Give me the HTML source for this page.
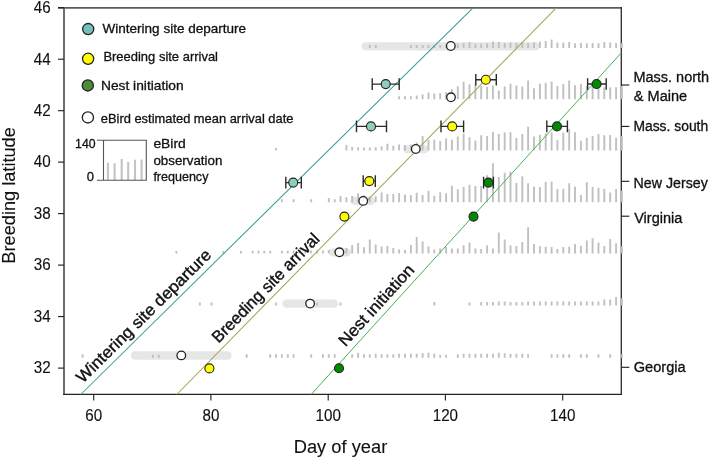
<!DOCTYPE html>
<html><head><meta charset="utf-8"><style>
html,body{margin:0;padding:0;background:#fff;}
body{width:710px;height:459px;overflow:hidden;position:relative;font-family:"Liberation Sans", sans-serif;}
svg text{font-family:"Liberation Sans", sans-serif;stroke:#111;stroke-width:0.12px;}
svg text.g{stroke-width:0.3px;}
svg text.r{stroke-width:0.4px;}
</style></head><body>
<svg style="position:absolute;left:0;top:0;will-change:transform" width="710" height="459" viewBox="0 0 710 459"><rect width="710" height="459" fill="#fff"/><path d="M58 7.9H621.4" stroke="#5c5c5c" stroke-width="1.8"/><path d="M64 7.9V394.4" stroke="#666" stroke-width="1.9"/><path d="M63.1 394.4H622" stroke="#222" stroke-width="1.3"/><path d="M621.3 7.1V395" stroke="#2a2a2a" stroke-width="1.3"/><line x1="365.6" y1="46.3" x2="535.4" y2="46.3" stroke="#e6e6e6" stroke-width="8.3" stroke-linecap="round"/><line x1="407.1" y1="149.1" x2="424.4" y2="149.1" stroke="#e6e6e6" stroke-width="8.3" stroke-linecap="round"/><line x1="354.6" y1="200.9" x2="370.9" y2="200.9" stroke="#e6e6e6" stroke-width="8.3" stroke-linecap="round"/><line x1="333.1" y1="252.3" x2="346.9" y2="252.3" stroke="#e6e6e6" stroke-width="8.3" stroke-linecap="round"/><line x1="286.6" y1="303.6" x2="333.9" y2="303.6" stroke="#e6e6e6" stroke-width="8.3" stroke-linecap="round"/><line x1="135.1" y1="355.5" x2="227.4" y2="355.5" stroke="#e6e6e6" stroke-width="8.3" stroke-linecap="round"/><path d="M369.8 47.9V44.9M375.7 47.9V44.9M410.9 47.9V44.9M416.7 47.9V44.9M422.6 47.9V44.9M428.5 47.9V44.9M434.3 47.9V44.9M440.2 47.9V44.9M446.1 47.9V44.9M451.9 47.9V44.9M457.8 47.9V43.8M463.6 47.9V43.2M469.5 47.9V42.1M475.4 47.9V43.8M481.2 47.9V43.8M487.1 47.9V43.2M492.9 47.9V41.5M498.8 47.9V42.1M504.7 47.9V42.9M510.5 47.9V42.6M516.4 47.9V42.9M522.3 47.9V42.4M528.1 47.9V42.9M534.0 47.9V42.4M539.9 47.9V41.5M545.7 47.9V41.1M551.6 47.9V39.6M557.4 47.9V42.4M563.3 47.9V42.4M569.2 47.9V42.1M575.0 47.9V43.3M580.9 47.9V42.9M586.8 47.9V43.3M592.6 47.9V42.9M598.5 47.9V43.3M604.3 47.9V42.1M610.2 47.9V42.4M616.1 47.9V42.9M621.9 47.9V43.3M399.1 99.3V96.3M405.0 99.3V96.3M410.9 99.3V96.3M416.7 99.3V95.5M422.6 99.3V94.5M428.5 99.3V92.6M434.3 99.3V93.6M440.2 99.3V93.0M446.1 99.3V92.3M451.9 99.3V89.3M457.8 99.3V86.3M463.6 99.3V81.8M469.5 99.3V84.3M475.4 99.3V84.3M481.2 99.3V86.3M487.1 99.3V86.9M492.9 99.3V85.6M498.8 99.3V90.4M504.7 99.3V86.6M510.5 99.3V83.7M516.4 99.3V85.6M522.3 99.3V86.6M528.1 99.3V80.6M534.0 99.3V88.2M539.9 99.3V83.8M545.7 99.3V82.8M551.6 99.3V81.5M557.4 99.3V85.9M563.3 99.3V84.1M569.2 99.3V80.6M575.0 99.3V85.3M580.9 99.3V84.1M586.8 99.3V85.9M592.6 99.3V85.3M598.5 99.3V85.3M604.3 99.3V87.3M610.2 99.3V87.3M616.1 99.3V87.3M621.9 99.3V85.9M276.0 150.5V147.9M346.4 150.5V145.1M352.2 150.5V147.0M358.1 150.5V147.3M364.0 150.5V147.6M369.8 150.5V147.6M375.7 150.5V147.3M381.6 150.5V146.3M387.4 150.5V143.8M393.3 150.5V145.7M399.1 150.5V144.5M405.0 150.5V145.1M410.9 150.5V144.5M416.7 150.5V142.5M422.6 150.5V135.9M428.5 150.5V139.7M434.3 150.5V139.7M440.2 150.5V141.0M446.1 150.5V138.5M451.9 150.5V139.7M457.8 150.5V136.5M463.6 150.5V133.4M469.5 150.5V137.2M475.4 150.5V140.4M481.2 150.5V135.3M487.1 150.5V135.9M492.9 150.5V131.9M498.8 150.5V134.0M504.7 150.5V132.6M510.5 150.5V132.2M516.4 150.5V138.1M522.3 150.5V134.0M528.1 150.5V126.7M534.0 150.5V136.6M539.9 150.5V134.8M545.7 150.5V133.5M551.6 150.5V132.5M557.4 150.5V139.9M563.3 150.5V132.6M569.2 150.5V128.9M575.0 150.5V132.2M580.9 150.5V140.8M586.8 150.5V137.7M592.6 150.5V135.9M598.5 150.5V134.0M604.3 150.5V135.3M610.2 150.5V135.0M616.1 150.5V137.7M621.9 150.5V135.9M281.9 202.2V199.3M293.6 202.2V199.3M311.2 202.2V199.3M328.8 202.2V198.0M334.7 202.2V199.3M340.5 202.2V195.9M346.4 202.2V197.2M352.2 202.2V195.9M358.1 202.2V193.3M364.0 202.2V195.2M369.8 202.2V196.8M375.7 202.2V196.2M381.6 202.2V192.4M387.4 202.2V194.0M393.3 202.2V194.0M399.1 202.2V192.9M405.0 202.2V194.6M410.9 202.2V195.0M416.7 202.2V192.7M422.6 202.2V195.0M428.5 202.2V190.8M434.3 202.2V195.7M440.2 202.2V192.3M446.1 202.2V193.2M451.9 202.2V185.7M457.8 202.2V189.2M463.6 202.2V187.0M469.5 202.2V184.7M475.4 202.2V186.0M481.2 202.2V186.0M487.1 202.2V175.2M492.9 202.2V163.2M498.8 202.2V176.9M504.7 202.2V172.7M510.5 202.2V171.7M516.4 202.2V183.0M522.3 202.2V176.3M528.1 202.2V183.2M534.0 202.2V186.5M539.9 202.2V187.0M545.7 202.2V181.9M551.6 202.2V181.4M557.4 202.2V189.0M563.3 202.2V188.7M569.2 202.2V183.2M575.0 202.2V186.5M580.9 202.2V194.9M586.8 202.2V182.2M592.6 202.2V187.0M598.5 202.2V187.8M604.3 202.2V188.7M610.2 202.2V192.4M616.1 202.2V189.0M621.9 202.2V190.7M176.4 253.6V251.1M223.3 253.6V251.1M240.9 253.6V251.1M252.6 253.6V250.8M258.5 253.6V250.8M264.3 253.6V250.8M270.2 253.6V250.8M281.9 253.6V250.8M287.8 253.6V250.8M293.6 253.6V250.8M299.5 253.6V250.6M305.4 253.6V250.8M311.2 253.6V250.6M317.1 253.6V250.6M322.9 253.6V250.4M328.8 253.6V250.1M334.7 253.6V250.1M340.5 253.6V249.6M346.4 253.6V248.0M352.2 253.6V245.1M358.1 253.6V243.0M364.0 253.6V247.3M369.8 253.6V239.5M375.7 253.6V244.4M381.6 253.6V246.6M387.4 253.6V246.1M393.3 253.6V248.0M399.1 253.6V249.4M405.0 253.6V250.1M410.9 253.6V245.1M416.7 253.6V237.1M422.6 253.6V241.6M428.5 253.6V246.6M434.3 253.6V249.5M440.2 253.6V248.4M446.1 253.6V247.0M451.9 253.6V248.4M457.8 253.6V248.4M463.6 253.6V245.3M469.5 253.6V242.5M475.4 253.6V248.4M481.2 253.6V249.1M487.1 253.6V245.3M492.9 253.6V248.4M498.8 253.6V232.5M504.7 253.6V239.5M510.5 253.6V245.6M516.4 253.6V246.0M522.3 253.6V242.1M528.1 253.6V227.3M534.0 253.6V244.0M539.9 253.6V246.3M545.7 253.6V246.8M551.6 253.6V247.1M557.4 253.6V249.0M563.3 253.6V247.1M569.2 253.6V246.8M575.0 253.6V244.0M580.9 253.6V245.8M586.8 253.6V240.4M592.6 253.6V238.3M598.5 253.6V242.4M604.3 253.6V246.0M610.2 253.6V239.1M616.1 253.6V243.2M621.9 253.6V246.3M199.8 305.6V302.6M211.5 305.6V302.6M276.0 305.6V302.6M317.1 305.6V302.6M340.5 305.6V302.6M434.3 305.6V302.1M469.5 305.6V302.6M481.2 305.6V302.1M487.1 305.6V302.1M492.9 305.6V302.1M498.8 305.6V301.6M504.7 305.6V301.6M510.5 305.6V302.1M516.4 305.6V302.1M522.3 305.6V302.1M528.1 305.6V301.6M534.0 305.6V301.6M539.9 305.6V301.6M545.7 305.6V301.6M551.6 305.6V301.6M557.4 305.6V301.6M563.3 305.6V301.6M569.2 305.6V301.6M575.0 305.6V301.6M580.9 305.6V301.6M586.8 305.6V301.6M592.6 305.6V301.6M598.5 305.6V301.6M604.3 305.6V299.6M610.2 305.6V299.6M616.1 305.6V297.1M621.9 305.6V298.2M82.6 357.7V354.3M152.9 357.7V354.7M158.8 357.7V354.7M246.7 357.7V354.2M270.2 357.7V354.2M276.0 357.7V354.2M281.9 357.7V354.2M287.8 357.7V354.2M293.6 357.7V354.2M311.2 357.7V354.2M322.9 357.7V354.2M328.8 357.7V354.2M334.7 357.7V354.2M352.2 357.7V354.2M358.1 357.7V352.7M364.0 357.7V354.2M369.8 357.7V354.2M375.7 357.7V353.7M381.6 357.7V354.2M387.4 357.7V354.2M393.3 357.7V354.2M399.1 357.7V353.7M405.0 357.7V353.7M410.9 357.7V353.7M416.7 357.7V353.7M422.6 357.7V353.2M428.5 357.7V352.7M434.3 357.7V353.7M440.2 357.7V354.7M446.1 357.7V354.7M457.8 357.7V354.2M463.6 357.7V353.7M469.5 357.7V353.7M475.4 357.7V353.7M481.2 357.7V353.7M487.1 357.7V353.7M492.9 357.7V353.7M498.8 357.7V352.7M504.7 357.7V353.2M510.5 357.7V353.7M516.4 357.7V353.7M522.3 357.7V353.7M528.1 357.7V354.2M551.6 357.7V354.2M557.4 357.7V354.2M563.3 357.7V354.2M569.2 357.7V354.2M580.9 357.7V354.2M586.8 357.7V354.2M598.5 357.7V354.2M610.2 357.7V354.2M621.9 357.7V354.2" stroke="#c0c0c0" stroke-width="1.9" fill="none"/><line x1="80.7" y1="394.5" x2="473" y2="7.8" stroke="#3a9e96" stroke-width="1.05"/><line x1="176.8" y1="394.5" x2="556.3" y2="7.8" stroke="#a2a752" stroke-width="1.05"/><line x1="311.1" y1="394.5" x2="621.5" y2="52.6" stroke="#4cae52" stroke-width="1.0"/><circle cx="450.8" cy="46.0" r="4.3" fill="#fff" stroke="#222" stroke-width="1.3"/><circle cx="451.0" cy="97.3" r="4.3" fill="#fff" stroke="#222" stroke-width="1.3"/><circle cx="415.8" cy="149.0" r="4.3" fill="#fff" stroke="#222" stroke-width="1.3"/><circle cx="363.2" cy="200.9" r="4.3" fill="#fff" stroke="#222" stroke-width="1.3"/><circle cx="339.4" cy="252.3" r="4.3" fill="#fff" stroke="#222" stroke-width="1.3"/><circle cx="310.1" cy="303.6" r="4.3" fill="#fff" stroke="#222" stroke-width="1.3"/><circle cx="181.3" cy="355.4" r="4.3" fill="#fff" stroke="#222" stroke-width="1.3"/><path d="M372.2 84.1H399.2M372.2 78.3V89.89999999999999M399.2 78.3V89.89999999999999" stroke="#2a2a2a" stroke-width="1.4" fill="none"/><circle cx="385.7" cy="84.1" r="4.5" fill="#8ccfc0" stroke="#222" stroke-width="1.1"/><path d="M356.5 126.4H386.5M356.5 120.60000000000001V132.20000000000002M386.5 120.60000000000001V132.20000000000002" stroke="#2a2a2a" stroke-width="1.4" fill="none"/><circle cx="371.0" cy="126.4" r="4.5" fill="#8ccfc0" stroke="#222" stroke-width="1.1"/><path d="M285.8 182.6H301.3M285.8 176.79999999999998V188.4M301.3 176.79999999999998V188.4" stroke="#2a2a2a" stroke-width="1.4" fill="none"/><circle cx="293.2" cy="182.6" r="4.5" fill="#8ccfc0" stroke="#222" stroke-width="1.1"/><path d="M475.8 79.7H496.3M475.8 73.9V85.5M496.3 73.9V85.5" stroke="#2a2a2a" stroke-width="1.4" fill="none"/><circle cx="485.8" cy="79.7" r="4.5" fill="#ffff00" stroke="#222" stroke-width="1.1"/><path d="M441.0 126.4H463.6M441.0 120.60000000000001V132.20000000000002M463.6 120.60000000000001V132.20000000000002" stroke="#2a2a2a" stroke-width="1.4" fill="none"/><circle cx="452.2" cy="126.4" r="4.5" fill="#ffff00" stroke="#222" stroke-width="1.1"/><path d="M363.2 181.1H375.3M363.2 175.29999999999998V186.9M375.3 175.29999999999998V186.9" stroke="#2a2a2a" stroke-width="1.4" fill="none"/><circle cx="369.3" cy="181.1" r="4.5" fill="#ffff00" stroke="#222" stroke-width="1.1"/><circle cx="344.4" cy="216.6" r="4.5" fill="#ffff00" stroke="#222" stroke-width="1.1"/><circle cx="209.4" cy="368.4" r="4.5" fill="#ffff00" stroke="#222" stroke-width="1.1"/><path d="M587.6 84.0H606.2M587.6 78.2V89.8M606.2 78.2V89.8" stroke="#2a2a2a" stroke-width="1.4" fill="none"/><circle cx="596.6" cy="84.0" r="4.5" fill="#008a00" stroke="#222" stroke-width="1.1"/><path d="M546.8 126.4H567.4M546.8 120.60000000000001V132.20000000000002M567.4 120.60000000000001V132.20000000000002" stroke="#2a2a2a" stroke-width="1.4" fill="none"/><circle cx="557.0" cy="126.4" r="4.5" fill="#008a00" stroke="#222" stroke-width="1.1"/><path d="M483.6 182.6H493.4M483.6 176.79999999999998V188.4M493.4 176.79999999999998V188.4" stroke="#2a2a2a" stroke-width="1.4" fill="none"/><circle cx="488.4" cy="182.6" r="4.5" fill="#008a00" stroke="#222" stroke-width="1.1"/><circle cx="473.5" cy="216.6" r="4.5" fill="#008a00" stroke="#222" stroke-width="1.1"/><circle cx="339.0" cy="368.2" r="4.5" fill="#008a00" stroke="#222" stroke-width="1.1"/><line x1="58" y1="368.1" x2="64" y2="368.1" stroke="#1a1a1a" stroke-width="1.1"/><text transform="translate(50.6 373.4) scale(1 1.1)" font-size="15.2" text-anchor="end" fill="#111">32</text><line x1="58" y1="316.6" x2="64" y2="316.6" stroke="#1a1a1a" stroke-width="1.1"/><text transform="translate(50.6 321.9) scale(1 1.1)" font-size="15.2" text-anchor="end" fill="#111">34</text><line x1="58" y1="265.1" x2="64" y2="265.1" stroke="#1a1a1a" stroke-width="1.1"/><text transform="translate(50.6 270.4) scale(1 1.1)" font-size="15.2" text-anchor="end" fill="#111">36</text><line x1="58" y1="213.6" x2="64" y2="213.6" stroke="#1a1a1a" stroke-width="1.1"/><text transform="translate(50.6 218.9) scale(1 1.1)" font-size="15.2" text-anchor="end" fill="#111">38</text><line x1="58" y1="162.1" x2="64" y2="162.1" stroke="#1a1a1a" stroke-width="1.1"/><text transform="translate(50.6 167.4) scale(1 1.1)" font-size="15.2" text-anchor="end" fill="#111">40</text><line x1="58" y1="110.7" x2="64" y2="110.7" stroke="#1a1a1a" stroke-width="1.1"/><text transform="translate(50.6 116.0) scale(1 1.1)" font-size="15.2" text-anchor="end" fill="#111">42</text><line x1="58" y1="59.2" x2="64" y2="59.2" stroke="#1a1a1a" stroke-width="1.1"/><text transform="translate(50.6 64.5) scale(1 1.1)" font-size="15.2" text-anchor="end" fill="#111">44</text><line x1="58" y1="7.7" x2="64" y2="7.7" stroke="#1a1a1a" stroke-width="1.1"/><text transform="translate(50.6 13.0) scale(1 1.1)" font-size="15.2" text-anchor="end" fill="#111">46</text><line x1="93.7" y1="394.5" x2="93.7" y2="400.5" stroke="#1a1a1a" stroke-width="1.1"/><text transform="translate(93.7 421.2) scale(1 1.1)" font-size="15.2" text-anchor="middle" fill="#111">60</text><line x1="210.9" y1="394.5" x2="210.9" y2="400.5" stroke="#1a1a1a" stroke-width="1.1"/><text transform="translate(210.9 421.2) scale(1 1.1)" font-size="15.2" text-anchor="middle" fill="#111">80</text><line x1="328.2" y1="394.5" x2="328.2" y2="400.5" stroke="#1a1a1a" stroke-width="1.1"/><text transform="translate(328.2 421.2) scale(1 1.1)" font-size="15.2" text-anchor="middle" fill="#111">100</text><line x1="445.4" y1="394.5" x2="445.4" y2="400.5" stroke="#1a1a1a" stroke-width="1.1"/><text transform="translate(445.4 421.2) scale(1 1.1)" font-size="15.2" text-anchor="middle" fill="#111">120</text><line x1="562.7" y1="394.5" x2="562.7" y2="400.5" stroke="#1a1a1a" stroke-width="1.1"/><text transform="translate(562.7 421.2) scale(1 1.1)" font-size="15.2" text-anchor="middle" fill="#111">140</text><line x1="621.5" y1="85.0" x2="629.3" y2="85.0" stroke="#1a1a1a" stroke-width="1.1"/><line x1="621.5" y1="126.4" x2="629.3" y2="126.4" stroke="#1a1a1a" stroke-width="1.1"/><line x1="621.5" y1="181.3" x2="629.3" y2="181.3" stroke="#1a1a1a" stroke-width="1.1"/><line x1="621.5" y1="216.2" x2="629.3" y2="216.2" stroke="#1a1a1a" stroke-width="1.1"/><line x1="621.5" y1="367.3" x2="629.3" y2="367.3" stroke="#1a1a1a" stroke-width="1.1"/><text class="g" x="633.4" y="82.0" font-size="14" fill="#111" textLength="75.8" lengthAdjust="spacingAndGlyphs">Mass. north</text><text class="g" x="633.8" y="101.2" font-size="14" fill="#111" textLength="53.3" lengthAdjust="spacingAndGlyphs">&amp; Maine</text><text class="g" x="633.4" y="131.2" font-size="14" fill="#111" textLength="74.8" lengthAdjust="spacingAndGlyphs">Mass. south</text><text class="g" x="633.6" y="187.6" font-size="14" fill="#111" textLength="74.2" lengthAdjust="spacingAndGlyphs">New Jersey</text><text class="g" x="634.2" y="222.9" font-size="14" fill="#111" textLength="48.2" lengthAdjust="spacingAndGlyphs">Virginia</text><text class="g" x="633.8" y="371.5" font-size="14" fill="#111" textLength="51.8" lengthAdjust="spacingAndGlyphs">Georgia</text><text x="340.5" y="452.7" font-size="18.3" text-anchor="middle" fill="#111">Day of year</text><text transform="translate(15.4 195.4) rotate(-90)" x="0" y="0" font-size="18.2" text-anchor="middle" fill="#111">Breeding latitude</text><circle cx="88.2" cy="29.1" r="5.6" fill="#76bfbf" stroke="#222" stroke-width="1.3"/><circle cx="88.1" cy="58.8" r="5.6" fill="#ffff00" stroke="#222" stroke-width="1.3"/><circle cx="87.8" cy="85.4" r="5.6" fill="#4e8a3a" stroke="#222" stroke-width="1.3"/><circle cx="87.9" cy="117.4" r="5.6" fill="#fff" stroke="#222" stroke-width="1.3"/><text class="g" x="102.5" y="32.8" font-size="13" fill="#111" textLength="143.6" lengthAdjust="spacingAndGlyphs">Wintering site departure</text><text class="g" x="103.4" y="61.2" font-size="13" fill="#111" textLength="114.6" lengthAdjust="spacingAndGlyphs">Breeding site arrival</text><text class="g" x="101.0" y="90.3" font-size="13" fill="#111" textLength="82.6" lengthAdjust="spacingAndGlyphs">Nest initiation</text><text class="g" x="100.8" y="122.5" font-size="13" fill="#111" textLength="192.6" lengthAdjust="spacingAndGlyphs">eBird estimated mean arrival date</text><path d="M107.9 180V162.8M114.6 180V163.3M121.7 180V159M128.2 180V162M135 180V159.8M141.6 180V159.5" stroke="#c4c4c4" stroke-width="2.1" fill="none"/><path d="M97 140.3H146.3V180.2H97M103.5 140.3V180.2" fill="none" stroke="#555" stroke-width="1.1"/><text class="g" x="95.6" y="148.2" font-size="13" text-anchor="end" fill="#111" textLength="20.5" lengthAdjust="spacingAndGlyphs">140</text><text class="g" x="94" y="181.3" font-size="13" text-anchor="end" fill="#111">0</text><text class="g" x="153.4" y="148.2" font-size="13" fill="#111" textLength="32.4" lengthAdjust="spacingAndGlyphs">eBird</text><text class="g" x="153.4" y="164.8" font-size="13" fill="#111" textLength="69" lengthAdjust="spacingAndGlyphs">observation</text><text class="g" x="153.4" y="180.5" font-size="13" fill="#111" textLength="55" lengthAdjust="spacingAndGlyphs">frequency</text><text class="g r" transform="translate(82.76 383.77) rotate(-44.59)" font-size="16.5" fill="#111" textLength="182" lengthAdjust="spacingAndGlyphs">Wintering site departure</text><text class="g r" transform="translate(218.54 343.69) rotate(-45.54)" font-size="16.5" fill="#111" textLength="145.5" lengthAdjust="spacingAndGlyphs">Breeding site arrival</text><text class="g r" transform="translate(345.56 347.17) rotate(-47.76)" font-size="16.5" fill="#111" textLength="103.5" lengthAdjust="spacingAndGlyphs">Nest initiation</text></svg>
</body></html>
